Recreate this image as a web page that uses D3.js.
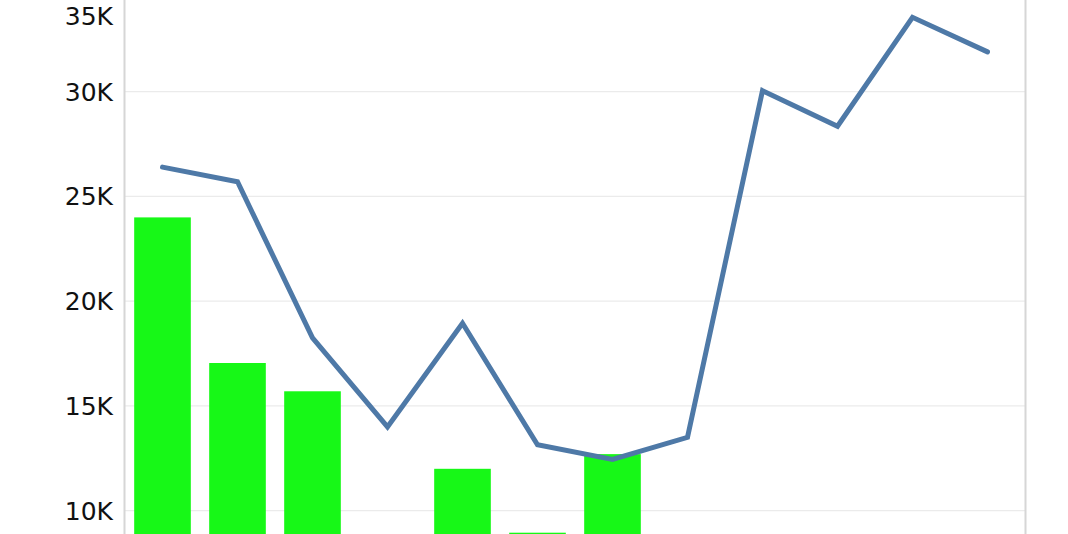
<!DOCTYPE html>
<html>
<head>
<meta charset="utf-8">
<script src="https://cdn.jsdelivr.net/npm/d3@7"></script>
<style>
  html, body { margin: 0; padding: 0; background: #fff; }
  svg { display: block; }
</style>
</head>
<body>
<svg id="chart" width="1068" height="534"></svg>
<script>
// values (12 periods)
const periods = ['P1', 'P2', 'P3', 'P4', 'P5', 'P6', 'P7', 'P8', 'P9', 'P10', 'P11', 'P12'];
const barValues = [24000, 17050, 15700, 6500, 12000, 8950, 12700, 0, 0, 0, 0, 0];
const lineValues = [26400, 25700, 18250, 14000, 18950, 13150, 12450, 13500, 30050, 28350, 33550, 31900];
const yTicks = [10000, 15000, 20000, 25000, 30000, 35000];

const width = 1068;
const height = 534;
const left = 125;
const right = 1025;

const svg = d3.select('#chart');

const x = d3.scaleBand()
  .domain(periods)
  .range([left, right])
  .paddingInner(0.245)
  .paddingOuter(0.1225);

const y = d3.scaleLinear()
  .domain([10000, 30000])
  .range([510.7, 91.7]);

// gridlines
svg.append('g')
  .selectAll('line')
  .data(yTicks)
  .enter().append('line')
    .attr('x1', left)
    .attr('x2', right)
    .attr('y1', d => y(d))
    .attr('y2', d => y(d))
    .attr('stroke', '#ebebeb')
    .attr('stroke-width', 1.3);

// bars
svg.append('g')
  .selectAll('rect')
  .data(barValues.map((v, i) => ({ key: periods[i], v })))
  .enter().append('rect')
    .attr('x', d => x(d.key))
    .attr('width', x.bandwidth())
    .attr('y', d => y(d.v))
    .attr('height', d => Math.max(0, y(0) - y(d.v)))
    .attr('fill', '#17f817');

// line
const line = d3.line()
  .x((d, i) => x(periods[i]) + x.bandwidth() / 2)
  .y(d => y(d));

svg.append('path')
  .datum(lineValues)
  .attr('d', line)
  .attr('fill', 'none')
  .attr('stroke', '#4e79a7')
  .attr('stroke-width', 5)
  .attr('stroke-linejoin', 'miter')
  .attr('stroke-linecap', 'round');

// axis lines
svg.append('line')
  .attr('x1', left - 0.5).attr('x2', left - 0.5)
  .attr('y1', 0).attr('y2', height)
  .attr('stroke', '#d6d6d6')
  .attr('stroke-width', 2);

svg.append('line')
  .attr('x1', right + 0.5).attr('x2', right + 0.5)
  .attr('y1', 0).attr('y2', height)
  .attr('stroke', '#d6d6d6')
  .attr('stroke-width', 2);

// tick labels, the top one is kept inside the view
svg.append('g')
  .selectAll('text')
  .data(yTicks)
  .enter().append('text')
    .attr('x', 113)
    .attr('y', d => Math.max(y(d), 16))
    .attr('dy', '0.36em')
    .attr('text-anchor', 'end')
    .attr('font-family', 'DejaVu Sans, sans-serif')
    .attr('font-size', 25)
    .attr('fill', '#111')
    .text(d => d3.format('.0f')(d / 1000) + 'K');
</script>
</body>
</html>
